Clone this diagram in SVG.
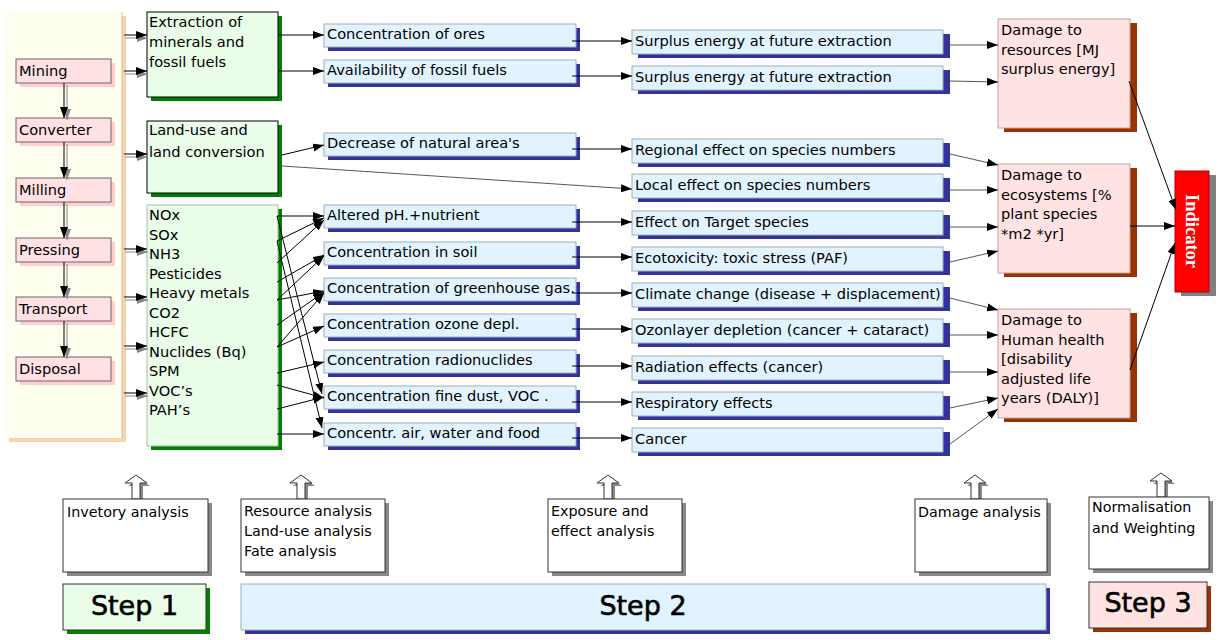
<svg xmlns="http://www.w3.org/2000/svg" width="1225" height="640" viewBox="0 0 1225 640">
<defs>
<marker id="ah" markerUnits="userSpaceOnUse" markerWidth="12" markerHeight="10" refX="11" refY="4" orient="auto">
<path d="M0,0 L11,4 L0,8 Z" fill="#000"/>
</marker>
<marker id="ahg" markerUnits="userSpaceOnUse" markerWidth="12" markerHeight="10" refX="11" refY="4" orient="auto">
<path d="M0,0 L11,4 L0,8 Z" fill="#888"/>
</marker>
<style>
text{font-family:"DejaVu Sans",Verdana,sans-serif;font-size:14.6px;fill:#000}
.sm{font-size:14.3px}
.step{font-size:27px;stroke:#000;stroke-width:0.6}
.ind{font-family:"Liberation Serif","Times New Roman",serif;font-weight:bold;font-size:18.5px;fill:#fff}
.proc{fill:#FFE1E4;stroke:#666;stroke-width:1}
.procsh{fill:#FFCDD2}
.green{fill:#E9FDE9;stroke:#000;stroke-width:1}
.greensh{fill:#008000}
.blue{fill:#E1F3FE;stroke:#9FB0BC;stroke-width:1}
.bluesh{fill:#333399}
.pink{fill:#FFE3E3;stroke:#C0A4A4;stroke-width:1}
.pinksh{fill:#993300}
.white{fill:#fff;stroke:#333;stroke-width:1}
.graysh{fill:#888}
.c{stroke:#000;stroke-width:1;fill:none;marker-end:url(#ah)}
.cg{stroke:#555;stroke-width:1;fill:none;marker-end:url(#ah)}
.sh{stroke:#888;stroke-width:1;fill:none;marker-end:url(#ahg)}
.up{fill:#fff;stroke:#333;stroke-width:1}
.upsh{fill:#888}
</style>
</defs>
<rect width="1225" height="640" fill="#fff"/>

<!-- left panel -->
<g id="panel">
<rect x="9" y="16" width="117" height="426" fill="#FAD3A8"/>
<rect x="5" y="12" width="117" height="426" fill="#FFFFF0"/>
<line x1="122" y1="12" x2="122" y2="438" stroke="#C8C0B0"/>
</g>

<g id="mining"><rect class="procsh" x="20" y="63" width="95" height="24"/><rect class="proc" x="16" y="59" width="95" height="24"/><text x="19" y="76">Mining</text></g>
<g id="converter"><rect class="procsh" x="20" y="122" width="95" height="24"/><rect class="proc" x="16" y="118" width="95" height="24"/><text x="19" y="135">Converter</text></g>
<g id="milling"><rect class="procsh" x="20" y="182" width="95" height="24"/><rect class="proc" x="16" y="178" width="95" height="24"/><text x="19" y="195">Milling</text></g>
<g id="pressing"><rect class="procsh" x="20" y="242" width="95" height="24"/><rect class="proc" x="16" y="238" width="95" height="24"/><text x="19" y="255">Pressing</text></g>
<g id="transport"><rect class="procsh" x="20" y="301" width="95" height="24"/><rect class="proc" x="16" y="297" width="95" height="24"/><text x="19" y="314">Transport</text></g>
<g id="disposal"><rect class="procsh" x="20" y="361" width="95" height="24"/><rect class="proc" x="16" y="357" width="95" height="24"/><text x="19" y="374">Disposal</text></g>

<!-- step 1 -->
<g id="extraction"><rect class="greensh" x="151" y="16" width="131" height="85"/><rect class="green" x="147" y="12" width="131" height="85"/>
<text x="149" y="27">Extraction of</text><text x="149" y="47">minerals and</text><text x="149" y="67">fossil fuels</text></g>
<g id="landuse"><rect class="greensh" x="151" y="125" width="131" height="72"/><rect class="green" x="147" y="121" width="131" height="72"/>
<text x="149" y="135">Land-use and</text><text x="149" y="157">land conversion</text></g>
<g id="emissions"><rect class="greensh" x="151" y="209" width="131" height="241"/><rect class="green" x="147" y="205" width="131" height="241" style="stroke:#A8C0A8"/>
<text x="149" y="220">NOx</text><text x="149" y="239.5">SOx</text><text x="149" y="259">NH3</text><text x="149" y="278.5">Pesticides</text><text x="149" y="298">Heavy metals</text><text x="149" y="317.5">CO2</text><text x="149" y="337">HCFC</text><text x="149" y="356.5">Nuclides (Bq)</text><text x="149" y="376">SPM</text><text x="149" y="395.5">VOC’s</text><text x="149" y="415">PAH’s</text></g>

<!-- middle column -->
<g id="m1"><rect class="bluesh" x="328" y="28" width="252" height="23"/><rect class="blue" x="324" y="24" width="252" height="23"/><text x="327" y="39">Concentration of ores</text></g>
<g id="m2"><rect class="bluesh" x="328" y="64" width="252" height="23"/><rect class="blue" x="324" y="60" width="252" height="23"/><text x="327" y="75">Availability of fossil fuels</text></g>
<g id="m3"><rect class="bluesh" x="328" y="137" width="252" height="23"/><rect class="blue" x="324" y="133" width="252" height="23"/><text x="327" y="148">Decrease of natural area's</text></g>
<g id="m4"><rect class="bluesh" x="328" y="209" width="252" height="23"/><rect class="blue" x="324" y="205" width="252" height="23"/><text x="327" y="220">Altered pH.+nutrient</text></g>
<g id="m5"><rect class="bluesh" x="328" y="246" width="252" height="23"/><rect class="blue" x="324" y="242" width="252" height="23"/><text x="327" y="257">Concentration in soil</text></g>
<g id="m6"><rect class="bluesh" x="328" y="282" width="252" height="23"/><rect class="blue" x="324" y="278" width="252" height="23"/><text x="327" y="293">Concentration of greenhouse gas.</text></g>
<g id="m7"><rect class="bluesh" x="328" y="318" width="252" height="23"/><rect class="blue" x="324" y="314" width="252" height="23"/><text x="327" y="329">Concentration ozone depl.</text></g>
<g id="m8"><rect class="bluesh" x="328" y="354" width="252" height="23"/><rect class="blue" x="324" y="350" width="252" height="23"/><text x="327" y="365">Concentration radionuclides</text></g>
<g id="m9"><rect class="bluesh" x="328" y="390" width="252" height="23"/><rect class="blue" x="324" y="386" width="252" height="23"/><text x="327" y="401">Concentration fine dust, VOC .</text></g>
<g id="m10"><rect class="bluesh" x="328" y="427" width="252" height="23"/><rect class="blue" x="324" y="423" width="252" height="23"/><text x="327" y="438">Concentr. air, water and food</text></g>

<!-- right column -->
<g id="r1"><rect class="bluesh" x="638" y="34" width="312" height="24"/><rect class="blue" x="632" y="30" width="311" height="24"/><text x="635" y="46">Surplus energy at future extraction</text></g>
<g id="r2"><rect class="bluesh" x="638" y="70" width="312" height="24"/><rect class="blue" x="632" y="66" width="311" height="24"/><text x="635" y="82">Surplus energy at future extraction</text></g>
<g id="r3"><rect class="bluesh" x="638" y="143" width="312" height="24"/><rect class="blue" x="632" y="139" width="311" height="24"/><text x="635" y="155">Regional effect on species numbers</text></g>
<g id="r4"><rect class="bluesh" x="638" y="178" width="312" height="24"/><rect class="blue" x="632" y="174" width="311" height="24"/><text x="635" y="190">Local effect on species numbers</text></g>
<g id="r5"><rect class="bluesh" x="638" y="215" width="312" height="24"/><rect class="blue" x="632" y="211" width="311" height="24"/><text x="635" y="227">Effect on Target species</text></g>
<g id="r6"><rect class="bluesh" x="638" y="251" width="312" height="24"/><rect class="blue" x="632" y="247" width="311" height="24"/><text x="635" y="263">Ecotoxicity: toxic stress (PAF)</text></g>
<g id="r7"><rect class="bluesh" x="638" y="287" width="312" height="24"/><rect class="blue" x="632" y="283" width="311" height="24"/><text x="635" y="299">Climate change (disease + displacement)</text></g>
<g id="r8"><rect class="bluesh" x="638" y="323" width="312" height="24"/><rect class="blue" x="632" y="319" width="311" height="24"/><text x="635" y="335">Ozonlayer depletion (cancer + cataract)</text></g>
<g id="r9"><rect class="bluesh" x="638" y="360" width="312" height="24"/><rect class="blue" x="632" y="356" width="311" height="24"/><text x="635" y="372">Radiation effects (cancer)</text></g>
<g id="r10"><rect class="bluesh" x="638" y="396" width="312" height="24"/><rect class="blue" x="632" y="392" width="311" height="24"/><text x="635" y="408">Respiratory effects</text></g>
<g id="r11"><rect class="bluesh" x="638" y="432" width="312" height="24"/><rect class="blue" x="632" y="428" width="311" height="24"/><text x="635" y="444">Cancer</text></g>

<!-- damage -->
<g id="d1"><rect class="pinksh" x="1004" y="23" width="133" height="109"/><rect class="pink" x="998" y="19" width="132" height="109"/>
<text x="1001" y="35">Damage to</text><text x="1001" y="54.5">resources [MJ</text><text x="1001" y="74">surplus energy]</text></g>
<g id="d2"><rect class="pinksh" x="1004" y="168" width="133" height="109"/><rect class="pink" x="998" y="164" width="132" height="109"/>
<text x="1001" y="180">Damage to</text><text x="1001" y="199.5">ecosystems [%</text><text x="1001" y="219">plant species</text><text x="1001" y="238.5">*m2 *yr]</text></g>
<g id="d3"><rect class="pinksh" x="1004" y="313" width="133" height="109"/><rect class="pink" x="998" y="309" width="132" height="109"/>
<text x="1001" y="325">Damage to</text><text x="1001" y="344.5">Human health</text><text x="1001" y="364">[disability</text><text x="1001" y="383.5">adjusted life</text><text x="1001" y="403">years (DALY)]</text></g>

<g id="indicator"><rect x="1181" y="175" width="35" height="121" fill="#808080"/><rect x="1175" y="171" width="34" height="121" fill="#FF0000" stroke="#B00000"/>
<text class="ind" transform="translate(1186,231) rotate(90)" text-anchor="middle">Indicator</text></g>

<!-- bottom -->
<g id="b1"><polygon class="upsh" points="139,478 150,486 143,486 143,502 135,502 135,486 128,486"/><polygon class="up" points="136,475 147,483 140,483 140,499 132,499 132,483 125,483"/>
<rect class="graysh" x="67" y="503" width="145" height="73"/><rect class="white" x="63" y="499" width="145" height="73"/><text class="sm" x="67" y="517">Invetory analysis</text></g>
<g id="b2"><polygon class="upsh" points="304,478 315,486 308,486 308,502 300,502 300,486 293,486"/><polygon class="up" points="301,475 312,483 305,483 305,499 297,499 297,483 290,483"/>
<rect class="graysh" x="245" y="503" width="144" height="73"/><rect class="white" x="241" y="499" width="144" height="73"/><text class="sm" x="244" y="515.5">Resource analysis</text><text class="sm" x="244" y="535.5">Land-use analysis</text><text class="sm" x="244" y="555.5">Fate analysis</text></g>
<g id="b3"><polygon class="upsh" points="611,478 622,486 615,486 615,502 607,502 607,486 600,486"/><polygon class="up" points="608,475 619,483 612,483 612,499 604,499 604,483 597,483"/>
<rect class="graysh" x="552" y="503" width="134" height="73"/><rect class="white" x="548" y="499" width="134" height="73"/><text class="sm" x="551" y="515.5">Exposure and</text><text class="sm" x="551" y="535.5">effect analysis</text></g>
<g id="b4"><polygon class="upsh" points="978,478 989,486 982,486 982,502 974,502 974,486 967,486"/><polygon class="up" points="975,475 986,483 979,483 979,499 971,499 971,483 964,483"/>
<rect class="graysh" x="919" y="503" width="132" height="73"/><rect class="white" x="915" y="499" width="132" height="73"/><text class="sm" x="918" y="517">Damage analysis</text></g>
<g id="b5"><polygon class="upsh" points="1164,476 1175,484 1168,484 1168,500 1160,500 1160,484 1153,484"/><polygon class="up" points="1161,473 1172,481 1165,481 1165,497 1157,497 1157,481 1150,481"/>
<rect class="graysh" x="1093" y="501" width="120" height="72"/><rect class="white" x="1089" y="497" width="120" height="72"/><text class="sm" x="1092" y="512">Normalisation</text><text class="sm" x="1092" y="533">and Weighting</text></g>

<g id="step1"><rect class="greensh" x="67" y="588" width="143" height="46"/><rect class="green" x="63" y="584" width="143" height="46" style="stroke:#333"/><text class="step" x="134.5" y="615" text-anchor="middle">Step 1</text></g>
<g id="step2"><rect class="bluesh" x="245" y="588" width="805" height="46"/><rect class="blue" x="241" y="584" width="805" height="46"/><text class="step" x="643" y="615" text-anchor="middle">Step 2</text></g>
<g id="step3"><rect class="pinksh" x="1093" y="586" width="118" height="46"/><rect class="pink" x="1089" y="582" width="118" height="46" style="stroke:#333"/><text class="step" x="1148" y="612" text-anchor="middle">Step 3</text></g>

<!-- connectors -->
<g id="connectors">
<line class="sh" x1="67" y1="85" x2="67" y2="120"/><line class="c" x1="64" y1="83" x2="64" y2="118"/>
<line class="sh" x1="67" y1="144" x2="67" y2="180"/><line class="c" x1="64" y1="142" x2="64" y2="178"/>
<line class="sh" x1="67" y1="204" x2="67" y2="240"/><line class="c" x1="64" y1="202" x2="64" y2="238"/>
<line class="sh" x1="67" y1="264" x2="67" y2="299"/><line class="c" x1="64" y1="262" x2="64" y2="297"/>
<line class="sh" x1="67" y1="323" x2="67" y2="359"/><line class="c" x1="64" y1="321" x2="64" y2="357"/>

<line class="sh" x1="125" y1="38" x2="148" y2="38"/><line class="c" x1="124" y1="35" x2="147" y2="35"/>
<line class="sh" x1="125" y1="74" x2="148" y2="74"/><line class="c" x1="124" y1="71" x2="147" y2="71"/>
<line class="sh" x1="125" y1="157" x2="148" y2="157"/><line class="c" x1="124" y1="154" x2="147" y2="154"/>
<line class="sh" x1="125" y1="252" x2="148" y2="252"/><line class="c" x1="124" y1="249" x2="147" y2="249"/>
<line class="sh" x1="125" y1="300" x2="148" y2="300"/><line class="c" x1="124" y1="297" x2="147" y2="297"/>
<line class="sh" x1="125" y1="349" x2="148" y2="349"/><line class="c" x1="124" y1="346" x2="147" y2="346"/>
<line class="sh" x1="125" y1="396" x2="148" y2="396"/><line class="c" x1="124" y1="393" x2="147" y2="393"/>

<line class="c" x1="278" y1="35" x2="324" y2="35"/>
<line class="c" x1="278" y1="71" x2="324" y2="71"/>
<line class="c" x1="282" y1="155" x2="324" y2="145"/>
<line class="cg" x1="282" y1="166" x2="632" y2="189"/>

<line class="c" x1="277" y1="216" x2="324" y2="216"/>
<line class="c" x1="277" y1="216" x2="322" y2="394"/>
<line class="c" x1="277" y1="241" x2="324" y2="218"/>
<line class="c" x1="277" y1="241" x2="322" y2="428"/>
<line class="c" x1="277" y1="263" x2="324" y2="220"/>
<line class="c" x1="277" y1="282" x2="324" y2="255"/>
<line class="c" x1="277" y1="300" x2="324" y2="256"/>
<line class="c" x1="277" y1="300" x2="324" y2="291"/>
<line class="c" x1="277" y1="325" x2="324" y2="292"/>
<line class="c" x1="277" y1="347" x2="324" y2="293"/>
<line class="c" x1="277" y1="347" x2="324" y2="326"/>
<line class="c" x1="277" y1="373" x2="324" y2="362"/>
<line class="c" x1="277" y1="385" x2="324" y2="398"/>
<line class="c" x1="277" y1="409" x2="324" y2="397"/>
<line class="c" x1="277" y1="434" x2="324" y2="434"/>

<line class="c" x1="572" y1="41" x2="632" y2="41"/>
<line class="c" x1="572" y1="76" x2="632" y2="76"/>
<line class="c" x1="572" y1="149" x2="632" y2="149"/>
<line class="c" x1="572" y1="222" x2="632" y2="222"/>
<line class="c" x1="572" y1="257" x2="632" y2="257"/>
<line class="c" x1="572" y1="293" x2="632" y2="293"/>
<line class="c" x1="572" y1="329" x2="632" y2="329"/>
<line class="c" x1="572" y1="366" x2="632" y2="366"/>
<line class="c" x1="572" y1="402" x2="632" y2="402"/>
<line class="c" x1="572" y1="438" x2="632" y2="438"/>

<line class="cg" x1="950" y1="45" x2="998" y2="45"/>
<line class="cg" x1="950" y1="81" x2="998" y2="82"/>
<line class="cg" x1="950" y1="154" x2="998" y2="165"/>
<line class="cg" x1="950" y1="190" x2="998" y2="190"/>
<line class="cg" x1="950" y1="227" x2="998" y2="227"/>
<line class="cg" x1="950" y1="262" x2="998" y2="251"/>
<line class="cg" x1="950" y1="298" x2="998" y2="310"/>
<line class="cg" x1="950" y1="335" x2="998" y2="335"/>
<line class="cg" x1="950" y1="372" x2="998" y2="372"/>
<line class="cg" x1="950" y1="408" x2="998" y2="398"/>
<line class="cg" x1="950" y1="444" x2="998" y2="409"/>

<line class="c" x1="1129" y1="81" x2="1176" y2="210"/>
<line class="c" x1="1130" y1="226" x2="1175" y2="226"/>
<line class="c" x1="1130" y1="370" x2="1175" y2="243"/>
</g>
</svg>
